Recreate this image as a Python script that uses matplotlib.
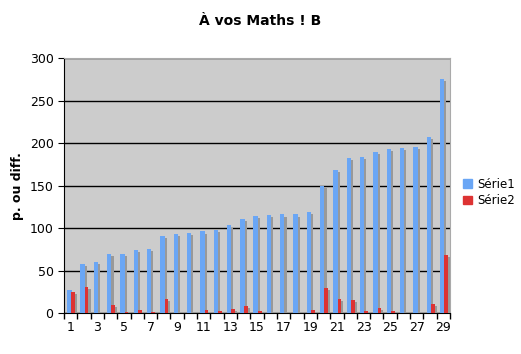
import numpy as np
import matplotlib
matplotlib.use("Agg")
import matplotlib.pyplot as plt
import matplotlib.patheffects as pe
from matplotlib.patches import Patch

# values
categories = list(range(1, 30))
serie1 = [27, 58, 60, 69, 70, 74, 75, 91, 93, 94, 96, 98, 103, 111, 114,
          115, 116, 116, 119, 150, 168, 183, 184, 190, 193, 194, 195, 207, 275]
serie2 = [25, 31, 0, 9, 1, 3, 1, 16, 0, 0.5, 3, 2, 5, 8, 2,
          0, 0, 0, 3, 30, 16, 15, 2, 6, 2, 0.5, 0, 11, 68]
blue = "#6aa6f5"
red = "#dd3333"

fig = plt.figure(figsize=(5.21, 3.54), dpi=100)
ax = fig.add_axes([0.1228, 0.1158, 0.741, 0.720])
ax.set_facecolor("#cccccc")

x = np.arange(len(categories))
shadow = [pe.SimplePatchShadow(offset=(1.5, -1.5), shadow_rgbFace="#999999", alpha=1.0), pe.Normal()]
ax.bar(x - 0.1, serie1, width=0.33, color=blue, zorder=3, path_effects=shadow)
ax.bar(x + 0.2, serie2, width=0.28, color=red, zorder=4, path_effects=shadow)

ax.set_xlim(-0.5, len(categories) - 0.5)
ax.set_ylim(0, 300)
ax.set_yticks(range(0, 301, 50))
ax.yaxis.grid(True, color="black", linewidth=1)
ax.set_axisbelow(True)

ax.set_xticks(x[::2])
ax.set_xticklabels([str(c) for c in categories[::2]])
ax.set_xticks(np.arange(-0.5, len(categories), 1), minor=True)
ax.tick_params(axis="x", which="major", length=0, pad=6, labelsize=9)
ax.tick_params(axis="x", which="minor", length=4, width=1, color="black")
ax.tick_params(axis="y", length=4, labelsize=9)

for s in ["left", "bottom"]:
    ax.spines[s].set_color("black")
for s in ["top", "right"]:
    ax.spines[s].set_color("#aaaaaa")

ax.set_ylabel("p. ou diff.", fontweight="bold", fontsize=9, labelpad=4)
fig.suptitle("À vos Maths ! B", fontweight="bold", fontsize=10, y=0.96)

handles = [Patch(color=blue, label="Série1"), Patch(color=red, label="Série2")]
fig.legend(handles=handles, loc="upper left", bbox_to_anchor=(0.878, 0.515),
           frameon=False, fontsize=8.5, handlelength=0.75, handleheight=0.75,
           handletextpad=0.4, labelspacing=0.3, borderpad=0)

fig.savefig("out.png", dpi=100)
